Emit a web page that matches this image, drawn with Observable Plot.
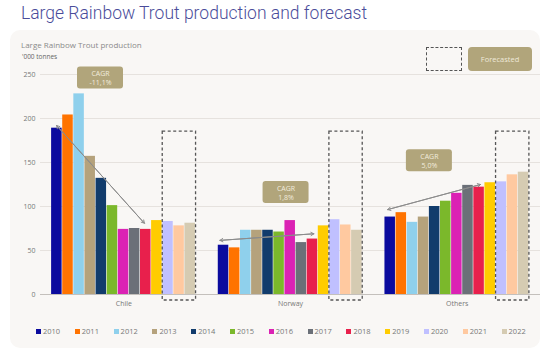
<!DOCTYPE html>
<html><head><meta charset="utf-8">
<script src="https://cdn.jsdelivr.net/npm/d3@7"></script>
<script src="https://cdn.jsdelivr.net/npm/@observablehq/plot@0.6"></script>
<style>
body{margin:0;background:#fff;font-family:"Open Sans",sans-serif;}
#page{position:relative;width:550px;height:352px;overflow:hidden;background:#fff;}
#card{position:absolute;left:10px;top:30px;width:530px;height:318px;background:#f9f7f5;border-radius:10px;}
#title{position:absolute;left:21px;top:3px;font-family:Roboto,sans-serif;font-weight:300;font-size:17.5px;color:#4a4c9a;white-space:nowrap;}
#sub{position:absolute;left:21px;top:39px;font-size:8px;color:#8a8a8a;white-space:nowrap;}
#unit{position:absolute;left:22px;top:52px;font-size:6.5px;color:#666;white-space:nowrap;}
#chart{position:absolute;left:0;top:0;}
#fcBox{position:absolute;left:426px;top:47px;width:34px;height:22px;border:1.3px dashed #555;}
#fcTag{position:absolute;left:468px;top:47px;width:64px;height:24px;border-radius:4px;background:#b1a57b;color:#efe9d9;font-size:7.5px;line-height:24px;text-align:center;}
#legend{position:absolute;left:36px;top:326px;white-space:nowrap;font-size:7.5px;color:#777;}
#legend span.item{display:inline-block;width:38.8px;}
#legend span.sw{display:inline-block;width:5px;height:5px;margin-right:2px;vertical-align:middle;position:relative;top:-1px;}
</style></head>
<body>
<div id="page">
  <div id="card"></div>
  <div id="title">Large Rainbow Trout production and forecast</div>
  <div id="sub">Large Rainbow Trout production</div>
  <div id="unit">'000 tonnes</div>
  <div id="chart"></div>
  <div id="fcBox"></div>
  <div id="fcTag">Forecasted</div>
  <div id="legend"></div>
</div>
<script>
// ---- data ----
const regions = ["Chile", "Norway", "Others"];
const years = ["2010","2011","2012","2013","2014","2015","2016","2017","2018","2019","2020","2021","2022"];
const chile  = [189, 204, 228, 157, 132, 101, 74, 75, 74, 84, 83, 78, 81];
const norway = [56, 53, 73, 73, 73, 71, 84, 59, 63, 78, 85, 79, 73];
const others = [88, 93, 82, 88, 100, 106, 115, 124, 122, 127, 128, 136, 139];
const colors = ["#0b0b9e","#ff7300","#8fd0ec","#b5a27c","#123c6c","#7bb82b","#db22b4","#6b7078","#e8204c","#ffcc00","#c0c0ff","#ffc9a0","#d5cbb2"];
const forecastYears = ["2020","2021","2022"];
const yTicks = [0, 50, 100, 150, 200, 250];
const cagrLabels = ["-11,1%", "1,8%", "5,0%"];

// annotation anchors (in data units: x = bar slot, y = '000 tonnes)
const cagrAnchorX = [4.4, 21.1, 34.0];
const cagrAnchorY = [246, 116, 152];
const trendFromX = [0.45, 15.15, 30.25];
const trendFromY = [192, 61.5, 96.5];
const trendToX = [8.35, 23.6, 38.6];
const trendToY = [81, 69, 125];
const forecastBoxTop = 185;

// ---- layout of slots ----
const groupStep = years.length + 2;
const series = [chile, norway, others];
const rows = regions.flatMap((r, ri) => years.map((yr, yi) => ({
  region: r, year: yr, value: series[ri][yi], pos: ri * groupStep + yi
})));
const boxes = regions.map((r, ri) => ({
  x1: ri * groupStep + years.indexOf(forecastYears[0]),
  x2: ri * groupStep + years.indexOf(forecastYears[forecastYears.length - 1]) + 1
}));
const cagr = regions.map((r, i) => ({x: cagrAnchorX[i], y: cagrAnchorY[i], text: "CAGR\n" + cagrLabels[i]}));
const arrowsFwd = regions.map((r, i) => ({x1: trendFromX[i], y1: trendFromY[i], x2: trendToX[i], y2: trendToY[i]}));
const arrowsBack = arrowsFwd.map(a => ({x1: a.x2, y1: a.y2, x2: a.x1, y2: a.y1}));
const centers = regions.map((r, ri) => ri * groupStep + years.length / 2);

const plot = Plot.plot({
  width: 550, height: 352,
  marginLeft: 40, marginRight: 10, marginTop: 74, marginBottom: 58,
  style: {fontFamily: "Open Sans, sans-serif", fontSize: "7px", color: "#777", background: "transparent"},
  x: {domain: [-1, groupStep * regions.length - 1], ticks: centers, tickFormat: (d, i) => regions[centers.indexOf(d)], tickSize: 0, tickPadding: 7, label: null},
  y: {domain: [0, 250], ticks: yTicks, tickSize: 0, tickPadding: 5, label: null},
  color: {domain: years, range: colors},
  marks: [
    Plot.ruleY(yTicks.filter(d => d > 0), {stroke: "#e6e2de", strokeWidth: 1}),
    Plot.rectY(rows, {x1: "pos", x2: d => d.pos + 1, y: "value", fill: "year", insetRight: 0.6}),
    Plot.ruleY([0], {stroke: "#c4c0bc", strokeWidth: 1}),
    Plot.rect(boxes, {x1: "x1", x2: "x2", y1: 0, y2: forecastBoxTop, fill: "none", stroke: "#555", strokeWidth: 1.3, strokeDasharray: "3,2.5", insetBottom: -6}),
    Plot.arrow(arrowsFwd, {x1: "x1", y1: "y1", x2: "x2", y2: "y2", stroke: "#8c8c8c", strokeWidth: 1, headLength: 5}),
    Plot.arrow(arrowsBack, {x1: "x1", y1: "y1", x2: "x2", y2: "y2", stroke: "#8c8c8c", strokeWidth: 1, headLength: 5}),
    Plot.rect(cagr, {x1: "x", x2: "x", y1: "y", y2: "y", insetLeft: -23, insetRight: -23, insetTop: -11, insetBottom: -11, fill: "#b1a57b", rx: 3}),
    Plot.text(cagr, {x: "x", y: "y", text: "text", fill: "#f1ecde", fontSize: 7, lineHeight: 1.25})
  ]
});
document.getElementById("chart").appendChild(plot);

const legend = document.getElementById("legend");
years.forEach((yr, i) => {
  const item = document.createElement("span");
  item.className = "item";
  const sw = document.createElement("span");
  sw.className = "sw";
  sw.style.background = colors[i];
  item.appendChild(sw);
  item.appendChild(document.createTextNode(yr));
  legend.appendChild(item);
});
</script>
</body></html>
